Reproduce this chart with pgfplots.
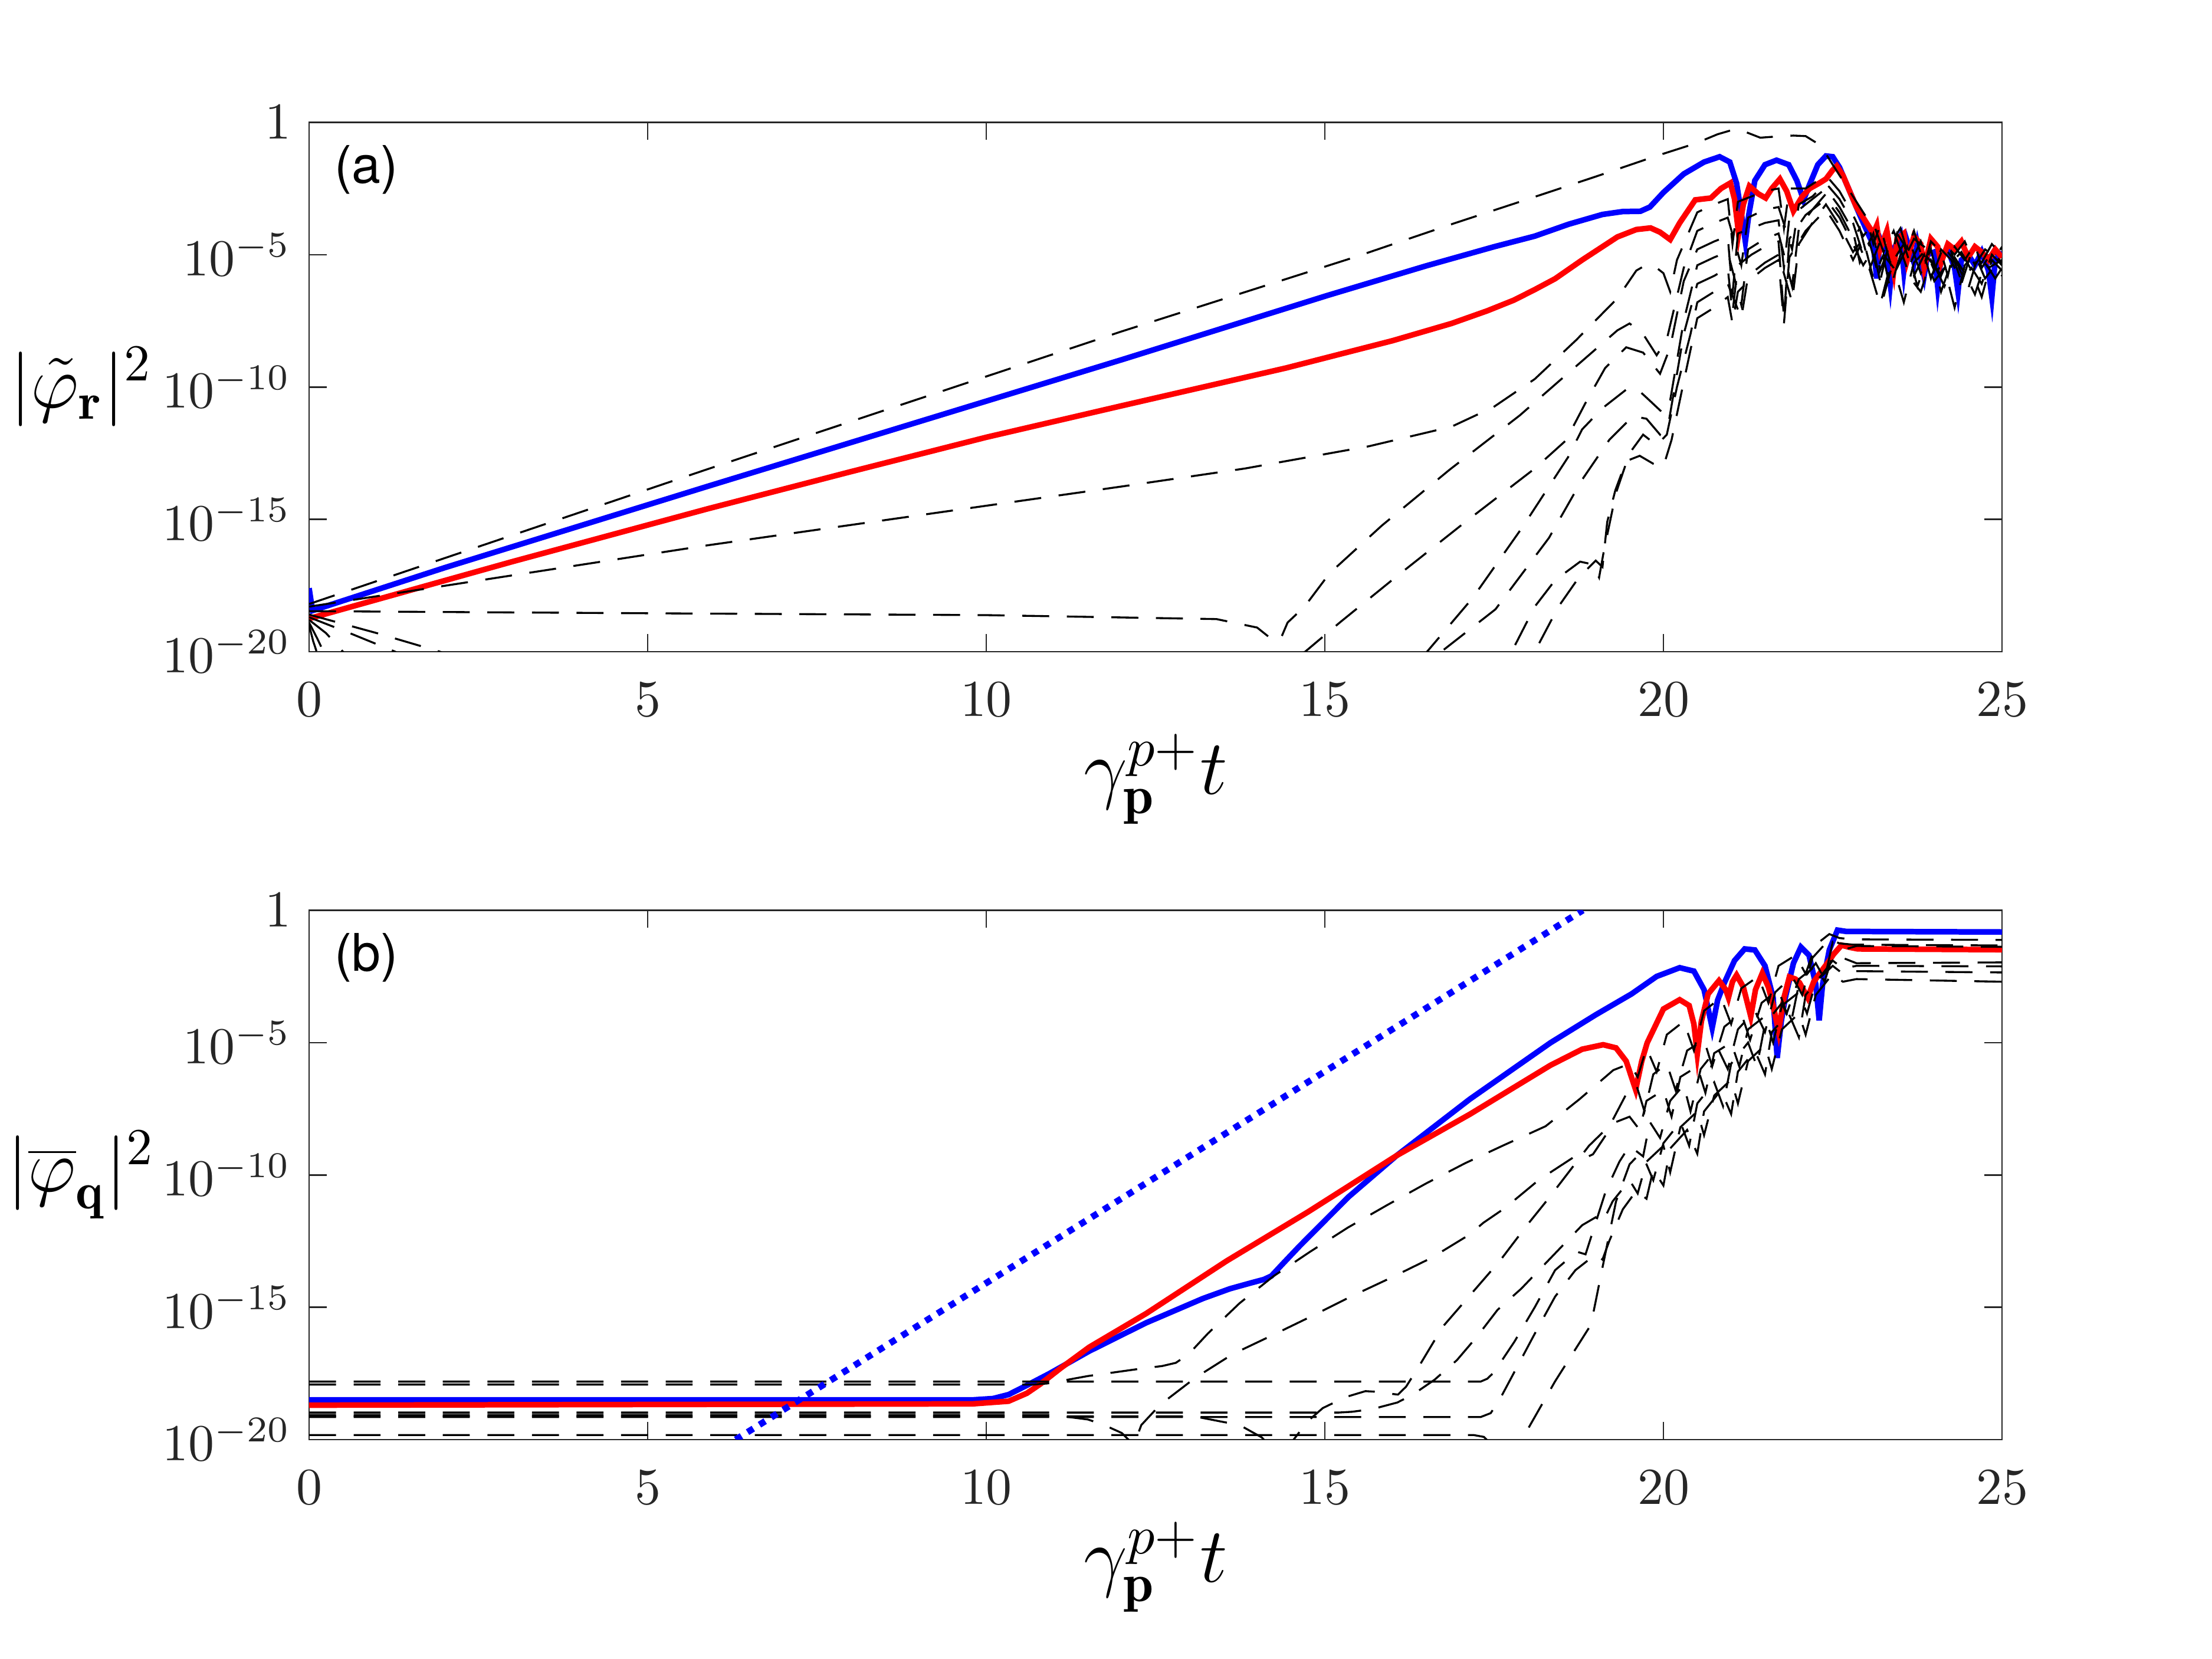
\RequirePackage{fix-cm}
\documentclass[border=0pt]{standalone}
\usepackage{fontspec}
\usepackage{pgfplots}
\pgfplotsset{compat=1.18}
\newfontfamily\helv{TeX Gyre Heros}
\definecolor{axgray}{gray}{0.15}
\definecolor{mblue}{rgb}{0,0,1}
\definecolor{mred}{rgb}{1,0,0}
\pgfplotsset{
  myaxis/.style={
    scale only axis, width=11.48cm, height=3.59cm,
    xmin=0, xmax=25, ymin=-20, ymax=0,
    xtick={0,5,...,25}, ytick={-20,-15,-10,-5,0},
    yticklabels={$10^{-20}$,$10^{-15}$,$10^{-10}$,$10^{-5}$,$1$},
    tick align=inside, major tick length=0.12cm,
    axis line style={axgray, line width=0.3pt},
    every tick/.style={axgray, line width=0.3pt},
    tick label style={font=\fontsize{10}{12}\selectfont, color=axgray},
    xticklabel style={yshift=-2.5pt},
    xlabel={$\gamma_{\mathbf{p}}^{p+}t$},
    xlabel style={font=\fontsize{15}{18}\selectfont, at={(axis description cs:0.5,0)}, anchor=center, yshift=-0.864cm},
    ylabel style={font=\fontsize{14.4}{17}\selectfont, at={(axis description cs:-0.1345,0.5)}, anchor=center, rotate=-90},
  },
  bl/.style={mblue, line width=1.08pt},
  rd/.style={mred, line width=1.08pt},
  bk/.style={black, line width=0.38pt, dash pattern=on 5.2pt off 3.4pt},
  dt/.style={mblue, line width=1.25pt, dash pattern=on 1.3pt off 1.4pt},
}
\begin{document}
\begin{tikzpicture}
\useasboundingbox (0,0) rectangle (15cm,11.252cm);
% ---------------- panel (a)
\begin{axis}[myaxis, at={(2.096cm,6.832cm)}, anchor=south west,
  ylabel={$|\tilde{\varphi}_{\mathbf{r}}|^2$}]
\addplot[bl] coordinates {(0,-17.6)(0.05,-18.45)(2,-16.83)(5.89,-13.75)(12,-8.97)(15.04,-6.54)(16.5,-5.42)(17.5,-4.7)(18.1,-4.3)(18.6,-3.85)(19.1,-3.48)(19.4,-3.37)(19.66,-3.36)(19.8,-3.2)(20.0,-2.65)(20.3,-1.95)(20.6,-1.5)(20.83,-1.3)(20.98,-1.5)(21.08,-2.3)(21.16,-3.6)(21.21,-4.5)(21.26,-3.5)(21.35,-2.2)(21.5,-1.6)(21.67,-1.43)(21.85,-1.6)(21.97,-2.2)(22.07,-2.93)(22.15,-2.4)(22.28,-1.6)(22.4,-1.27)(22.5,-1.3)(22.6,-1.7)(22.75,-2.6)(22.9,-3.5)(23.05,-4.36)(23.1,-4.6)(23.15,-5.9)(23.2,-4.4)(23.3,-5.0)(23.35,-6.1)(23.4,-4.8)(23.5,-4.3)(23.55,-5.6)(23.6,-4.5)(23.7,-5.3)(23.75,-4.6)(23.85,-5.8)(23.9,-5.0)(24.0,-4.9)(24.05,-6.2)(24.1,-5.1)(24.2,-4.8)(24.3,-5.5)(24.35,-6.4)(24.4,-5.2)(24.5,-5.0)(24.6,-5.4)(24.7,-4.9)(24.8,-5.6)(24.85,-6.6)(24.9,-5.2)(25,-4.9)};
\addplot[rd] coordinates {(0,-18.75)(3,-16.6)(5.89,-14.6)(8,-13.2)(10,-11.9)(12,-10.71)(14.43,-9.28)(16,-8.25)(16.87,-7.6)(17.4,-7.12)(17.79,-6.72)(18.1,-6.32)(18.4,-5.91)(18.8,-5.2)(19.32,-4.33)(19.6,-4.05)(19.81,-3.99)(19.95,-4.15)(20.1,-4.43)(20.24,-3.8)(20.47,-2.93)(20.7,-2.86)(20.85,-2.5)(20.99,-2.29)(21.05,-2.9)(21.11,-4.2)(21.18,-3.1)(21.27,-2.41)(21.4,-2.7)(21.51,-2.86)(21.6,-2.5)(21.72,-2.14)(21.82,-2.6)(21.92,-3.35)(22.05,-2.8)(22.16,-2.5)(22.3,-2.3)(22.4,-2.14)(22.5,-1.8)(22.56,-1.65)(22.65,-2.0)(22.75,-2.6)(22.85,-3.2)(23.0,-3.8)(23.1,-4.2)(23.15,-3.9)(23.2,-4.8)(23.3,-4.1)(23.4,-5.6)(23.45,-4.4)(23.55,-4.2)(23.6,-5.2)(23.7,-4.3)(23.8,-4.6)(23.85,-5.5)(23.95,-4.4)(24.05,-4.7)(24.1,-5.3)(24.2,-4.6)(24.3,-4.8)(24.4,-4.5)(24.5,-5.1)(24.6,-4.7)(24.7,-4.9)(24.8,-5.2)(24.9,-4.8)(25,-5.1)};
% D1
\addplot[bk] coordinates {(0,-18.2)(5.89,-13.1)(12,-7.9)(15.47,-5.07)(16.87,-3.85)(18,-2.9)(19,-2.05)(19.86,-1.3)(20.47,-0.8)(20.8,-0.45)(21.0,-0.3)(21.11,-0.26)(21.25,-0.4)(21.43,-0.58)(21.7,-0.53)(21.92,-0.5)(22.1,-0.52)(22.32,-0.87)(22.5,-1.6)(22.7,-2.4)(22.85,-3.0)(23.0,-3.6)(23.1,-4.6)(23.2,-3.9)(23.35,-5.3)(23.45,-4.2)(23.6,-4.8)(23.7,-4.1)(23.85,-5.4)(23.95,-4.5)(24.1,-4.9)(24.2,-5.8)(24.3,-4.7)(24.45,-5.2)(24.6,-4.6)(24.7,-5.5)(24.85,-4.9)(25,-5.3)};
% D2
\addplot[bk] coordinates {(0,-18.3)(5.89,-15.98)(12,-13.76)(13.82,-13.08)(15.65,-12.24)(16.87,-11.5)(17.49,-10.76)(18.1,-9.7)(18.71,-8.23)(19.32,-6.65)(19.6,-5.6)(19.75,-5.38)(19.9,-5.5)(20.0,-5.7)(20.1,-6.4)(20.2,-5.2)(20.5,-3.4)(20.75,-3.1)(20.95,-2.9)(21.02,-4.6)(21.1,-3.0)(21.3,-2.8)(21.5,-2.6)(21.7,-2.5)(21.78,-4.0)(21.86,-2.5)(22.1,-2.5)(22.4,-2.0)(22.6,-2.6)(22.8,-3.5)(22.95,-4.3)(23.1,-3.8)(23.25,-4.9)(23.4,-4.1)(23.55,-5.2)(23.7,-4.4)(23.85,-4.7)(24.0,-5.6)(24.15,-4.6)(24.3,-5.0)(24.45,-4.5)(24.6,-5.4)(24.75,-4.8)(24.9,-5.1)(25,-4.7)};
% E1
\addplot[bk] coordinates {(0,-18.47)(5,-18.55)(10,-18.62)(13.4,-18.77)(14.0,-19.09)(14.25,-19.6)(14.35,-19.5)(14.45,-18.9)(14.7,-18.3)(15.07,-17.04)(15.84,-15.24)(16.84,-13.13)(17.88,-11.07)(18.56,-9.55)(19.32,-7.86)(19.5,-7.6)(19.7,-8.0)(19.9,-8.8)(20.05,-8.2)(20.3,-5.5)(20.5,-4.1)(20.75,-3.8)(20.95,-3.6)(21.15,-5.4)(21.25,-3.6)(21.5,-3.3)(21.7,-3.2)(21.9,-4.8)(22.0,-3.1)(22.2,-2.8)(22.4,-2.3)(22.6,-2.9)(22.8,-3.8)(22.95,-5.0)(23.1,-4.2)(23.2,-5.6)(23.35,-4.6)(23.5,-4.0)(23.65,-5.3)(23.8,-4.5)(23.95,-5.9)(24.1,-4.8)(24.25,-5.2)(24.4,-6.1)(24.55,-4.9)(24.7,-5.3)(24.85,-4.6)(25,-5.0)};
% E2
\addplot[bk] coordinates {(0,-18.6)(1.0,-19.3)(1.93,-20.0)(2.5,-20.6)(8,-24)(14.0,-21)(14.71,-20.0)(15.23,-18.88)(16.02,-17.24)(17.06,-15.13)(18.1,-13.08)(18.56,-12.02)(18.86,-10.55)(19.14,-9.28)(19.45,-8.5)(19.7,-8.7)(19.95,-9.5)(20.1,-8.5)(20.3,-6.0)(20.5,-4.8)(20.75,-4.5)(20.95,-4.3)(21.02,-6.5)(21.1,-4.2)(21.3,-4.0)(21.5,-3.8)(21.7,-3.7)(21.78,-5.5)(21.86,-3.6)(22.1,-3.1)(22.4,-2.5)(22.6,-3.2)(22.8,-4.1)(22.9,-5.3)(23.05,-4.6)(23.2,-6.0)(23.3,-4.9)(23.45,-5.5)(23.6,-4.7)(23.75,-6.2)(23.9,-5.1)(24.05,-5.6)(24.2,-4.9)(24.35,-5.4)(24.5,-6.3)(24.65,-5.0)(24.8,-5.5)(25,-5.2)};
% E3
\addplot[bk] coordinates {(0,-18.7)(0.6,-19.3)(1.27,-20.0)(1.6,-20.5)(8,-25)(16.2,-21)(16.51,-20)(17.18,-17.98)(17.92,-15.29)(18.59,-12.66)(18.8,-11.6)(19.1,-10.8)(19.45,-10.1)(19.6,-10.05)(19.75,-10.4)(20.0,-11.0)(20.1,-10.5)(20.3,-7.5)(20.5,-5.4)(20.75,-5.1)(20.95,-4.9)(21.15,-6.9)(21.25,-4.8)(21.5,-4.4)(21.7,-4.2)(21.9,-6.2)(22.0,-4.0)(22.2,-3.3)(22.4,-2.7)(22.6,-3.4)(22.8,-4.4)(22.9,-4.0)(23.05,-5.5)(23.2,-4.5)(23.35,-6.3)(23.5,-5.0)(23.65,-4.6)(23.8,-5.7)(23.95,-4.8)(24.1,-6.4)(24.25,-5.3)(24.4,-4.9)(24.55,-5.6)(24.7,-6.6)(24.85,-5.2)(25,-5.6)};
% E4
\addplot[bk] coordinates {(0,-18.8)(0.25,-19.3)(0.5,-20.0)(0.7,-20.6)(8,-26)(16.4,-21)(16.72,-20)(17.52,-18.4)(18.31,-15.7)(18.8,-13.5)(19.2,-12.0)(19.55,-11.1)(19.75,-11.2)(19.95,-11.8)(20.08,-11.3)(20.3,-8.0)(20.5,-6.1)(20.75,-5.8)(20.95,-5.5)(21.02,-7.2)(21.1,-5.4)(21.3,-5.0)(21.5,-4.7)(21.7,-4.5)(21.78,-7.4)(21.86,-4.4)(22.1,-3.5)(22.4,-2.9)(22.6,-3.6)(22.8,-4.6)(22.95,-5.4)(23.1,-4.8)(23.25,-6.6)(23.4,-5.2)(23.55,-4.6)(23.7,-5.8)(23.85,-5.0)(24.0,-6.0)(24.15,-5.5)(24.3,-7.0)(24.45,-5.4)(24.6,-5.0)(24.75,-5.9)(24.9,-5.4)(25,-5.8)};
% E5
\addplot[bk] coordinates {(0,-18.9)(0.12,-19.5)(0.25,-20.2)(8,-27)(17.4,-21)(17.76,-20)(18.1,-18.3)(18.4,-17.3)(18.77,-16.6)(18.95,-16.7)(19.05,-17.2)(19.12,-16.2)(19.3,-14.0)(19.5,-12.5)(19.7,-11.8)(19.9,-12.2)(20.05,-11.8)(20.2,-10.0)(20.4,-8.0)(20.5,-6.8)(20.75,-6.4)(20.95,-6.1)(21.15,-7.4)(21.25,-5.8)(21.5,-5.3)(21.7,-5.0)(21.9,-6.8)(22.0,-4.6)(22.2,-3.8)(22.4,-3.1)(22.6,-3.9)(22.8,-4.9)(22.95,-4.4)(23.1,-5.9)(23.25,-5.0)(23.4,-5.5)(23.55,-6.8)(23.7,-5.3)(23.85,-4.9)(24.0,-5.4)(24.15,-6.2)(24.3,-5.1)(24.45,-5.7)(24.6,-6.5)(24.75,-5.3)(24.9,-5.9)(25,-5.5)};
% E6
\addplot[bk] coordinates {(0,-19.0)(0.06,-19.6)(0.15,-20.3)(8,-28)(17.8,-21)(18.1,-20)(18.45,-18.3)(18.75,-17.2)(19.0,-16.56)(19.1,-16.8)(19.17,-15.1)(19.29,-13.9)(19.45,-12.8)(19.65,-12.6)(19.85,-12.9)(20.0,-13.0)(20.12,-12.0)(20.3,-9.8)(20.5,-7.4)(20.75,-7.0)(20.95,-6.6)(21.02,-7.6)(21.1,-6.4)(21.3,-5.9)(21.5,-5.5)(21.7,-5.2)(21.78,-7.6)(21.86,-5.1)(22.1,-4.1)(22.4,-3.3)(22.6,-4.1)(22.8,-5.2)(22.9,-4.7)(23.05,-5.6)(23.2,-6.9)(23.35,-5.4)(23.5,-4.8)(23.65,-5.9)(23.8,-6.4)(23.95,-5.2)(24.1,-5.8)(24.25,-4.9)(24.4,-6.0)(24.55,-5.5)(24.7,-6.1)(24.85,-5.0)(25,-5.4)};
\node[anchor=west, inner sep=0pt, font=\helv\fontsize{10}{12}\selectfont] at (rel axis cs:0.0146,0.911) {(a)};
\end{axis}
% ---------------- panel (b)
\begin{axis}[myaxis, at={(2.096cm,1.488cm)}, anchor=south west,
  ylabel={$|\overline{\varphi}_{\mathbf{q}}|^2$}]
\addplot[bl] coordinates {(0,-18.5)(9.8,-18.5)(10.1,-18.45)(10.33,-18.3)(10.6,-17.95)(10.93,-17.51)(11.52,-16.66)(12.36,-15.59)(13.2,-14.67)(13.6,-14.3)(13.91,-14.08)(14.1,-13.95)(14.21,-13.82)(14.4,-13.3)(14.63,-12.68)(15.35,-10.83)(16.06,-9.27)(17.14,-7.14)(18.33,-5.01)(19.0,-3.95)(19.53,-3.16)(19.9,-2.5)(20.24,-2.17)(20.45,-2.3)(20.6,-3.0)(20.72,-4.44)(20.8,-3.4)(20.9,-2.74)(21.05,-1.9)(21.2,-1.46)(21.35,-1.5)(21.5,-2.1)(21.62,-3.3)(21.68,-5.58)(21.74,-4.2)(21.8,-3.3)(21.92,-2.0)(22.03,-1.39)(22.15,-1.7)(22.25,-2.8)(22.3,-4.16)(22.35,-2.8)(22.45,-1.5)(22.57,-0.75)(22.7,-0.8)(25,-0.82)};
\addplot[rd] coordinates {(0,-18.7)(9.8,-18.65)(10.33,-18.55)(10.6,-18.25)(10.8,-17.9)(11.1,-17.3)(11.52,-16.51)(12.36,-15.24)(13.55,-13.25)(14.75,-11.4)(16.06,-9.27)(17.14,-7.71)(18.33,-5.86)(18.8,-5.25)(19.11,-5.08)(19.3,-5.2)(19.45,-5.7)(19.59,-6.78)(19.68,-5.7)(19.76,-5.01)(20.0,-3.73)(20.24,-3.38)(20.38,-3.6)(20.45,-4.3)(20.5,-5.43)(20.56,-4.2)(20.66,-3.16)(20.82,-2.66)(20.92,-3.0)(20.96,-3.3)(21.02,-2.7)(21.08,-2.45)(21.18,-2.9)(21.29,-4.01)(21.36,-3.0)(21.46,-2.38)(21.55,-2.9)(21.62,-3.59)(21.7,-4.58)(21.78,-3.3)(21.86,-2.52)(21.95,-2.6)(22.01,-2.74)(22.13,-3.3)(22.22,-2.7)(22.33,-2.31)(22.45,-1.9)(22.51,-1.67)(22.63,-1.32)(22.75,-1.4)(22.87,-1.46)(25,-1.49)};
% A
\addplot[bk] coordinates {(0,-17.81)(17.3,-17.81)(17.4,-17.7)(17.5,-17.45)(17.8,-16.3)(18.1,-15.0)(18.4,-13.6)(18.72,-12.9)(18.85,-13.0)(18.95,-12.2)(19.15,-10.6)(19.35,-9.5)(19.5,-8.9)(19.7,-9.3)(19.8,-8.0)(19.95,-8.6)(20.1,-7.2)(20.3,-6.6)(20.4,-7.6)(20.55,-6.0)(20.8,-5.2)(20.95,-6.0)(21.1,-4.5)(21.35,-3.8)(21.5,-4.6)(21.65,-3.1)(21.9,-2.5)(22.05,-3.2)(22.2,-1.8)(22.45,-1.1)(22.6,-1.25)(22.8,-1.3)(25,-1.33)};
% B
\addplot[bk] coordinates {(0,-17.92)(10.7,-17.92)(10.9,-17.88)(11.5,-17.6)(12.2,-17.35)(12.6,-17.22)(12.8,-17.1)(12.99,-16.77)(13.27,-16.0)(13.74,-14.85)(14.24,-13.83)(14.79,-12.89)(15.34,-11.99)(15.92,-11.14)(16.49,-10.33)(17.07,-9.56)(17.64,-8.88)(18.08,-8.37)(18.26,-8.16)(18.76,-7.14)(19.26,-6.04)(19.5,-5.8)(19.62,-6.3)(19.75,-5.2)(19.9,-6.1)(20.05,-4.7)(20.3,-4.2)(20.45,-5.3)(20.6,-3.8)(20.85,-3.3)(21.0,-4.3)(21.15,-2.95)(21.4,-2.5)(21.55,-3.5)(21.7,-2.1)(21.95,-1.7)(22.1,-2.4)(22.25,-1.3)(22.45,-0.9)(22.6,-1.05)(22.8,-1.1)(25,-1.12)};
% C
\addplot[bk] coordinates {(0,-18.98)(15.2,-18.98)(15.4,-18.95)(15.7,-18.85)(16.07,-18.6)(16.3,-18.3)(16.62,-17.74)(16.95,-17.0)(17.25,-16.1)(17.55,-15.1)(17.9,-14.3)(18.2,-13.5)(18.5,-12.7)(18.8,-11.9)(19.0,-11.6)(19.1,-11.8)(19.25,-11.0)(19.5,-10.2)(19.62,-10.7)(19.75,-9.5)(20.0,-8.9)(20.1,-9.9)(20.25,-8.2)(20.5,-7.6)(20.6,-8.5)(20.75,-7.0)(21.0,-6.4)(21.1,-7.3)(21.25,-5.7)(21.5,-5.1)(21.6,-6.0)(21.75,-4.5)(22.0,-3.9)(22.1,-4.7)(22.25,-3.2)(22.5,-2.4)(22.65,-2.7)(22.85,-2.6)(25,-2.7)};
% D
\addplot[bk] coordinates {(0,-19.07)(10.9,-19.07)(11.1,-19.11)(11.5,-19.24)(11.74,-19.45)(12.0,-19.75)(12.18,-20.2)(12.29,-19.45)(12.57,-18.68)(13.09,-17.66)(13.64,-16.77)(14.24,-16.04)(14.82,-15.32)(15.39,-14.59)(15.99,-13.87)(16.57,-13.14)(17.14,-12.25)(17.34,-11.81)(17.66,-11.25)(18.16,-10.19)(18.71,-9.27)(18.85,-9.35)(18.96,-9.22)(19.14,-8.53)(19.26,-7.88)(19.44,-7.0)(19.6,-6.6)(19.72,-7.6)(19.85,-6.2)(20.05,-5.8)(20.18,-6.8)(20.35,-5.3)(20.6,-4.9)(20.72,-5.9)(20.9,-4.4)(21.15,-3.9)(21.28,-4.9)(21.45,-3.5)(21.7,-3.0)(21.82,-3.9)(22.0,-2.6)(22.25,-2.1)(22.38,-2.7)(22.5,-1.7)(22.65,-1.8)(22.85,-2.0)(25,-1.97)};
% E
\addplot[bk] coordinates {(0,-19.12)(13.0,-19.12)(13.09,-19.13)(13.47,-19.32)(13.74,-19.45)(14.07,-19.92)(14.2,-20.3)(14.4,-20.4)(14.54,-20.0)(14.75,-19.3)(14.97,-18.81)(15.3,-18.4)(15.6,-18.17)(15.8,-18.2)(15.94,-18.26)(16.08,-18.3)(16.2,-18.0)(16.4,-17.19)(16.74,-15.74)(17.17,-14.47)(17.59,-13.23)(17.97,-11.95)(18.3,-10.9)(18.6,-9.9)(18.9,-8.9)(19.1,-8.4)(19.3,-8.0)(19.5,-7.8)(19.65,-8.3)(19.75,-7.2)(20.0,-6.8)(20.12,-7.8)(20.25,-6.3)(20.5,-5.9)(20.62,-6.9)(20.75,-5.4)(21.0,-5.0)(21.12,-5.9)(21.25,-4.5)(21.5,-4.0)(21.62,-5.0)(21.75,-3.6)(22.0,-3.1)(22.12,-3.9)(22.25,-2.7)(22.5,-2.1)(22.65,-2.4)(22.85,-2.3)(25,-2.35)};
% G
\addplot[bk] coordinates {(0,-19.15)(17.3,-19.15)(17.45,-19.0)(17.6,-18.4)(17.85,-17.2)(18.1,-16.0)(18.4,-14.6)(18.7,-13.6)(19.0,-13.0)(19.1,-13.2)(19.2,-12.5)(19.4,-11.3)(19.6,-10.6)(19.75,-10.9)(19.85,-9.8)(20.0,-10.4)(20.1,-9.0)(20.35,-8.3)(20.5,-9.2)(20.6,-7.6)(20.85,-6.8)(21.0,-7.7)(21.1,-6.1)(21.35,-5.3)(21.5,-6.2)(21.6,-4.6)(21.85,-3.9)(22.0,-4.8)(22.1,-3.2)(22.35,-2.4)(22.5,-1.9)(22.65,-2.2)(22.85,-2.1)(25,-2.12)};
% F
\addplot[bk] coordinates {(0,-19.83)(17.2,-19.83)(17.35,-19.9)(17.5,-20.3)(17.7,-20.8)(17.91,-20.0)(18.4,-17.8)(18.93,-15.66)(19.1,-13.5)(19.3,-11.0)(19.5,-9.6)(19.65,-9.2)(19.75,-9.6)(19.85,-10.2)(20.0,-8.8)(20.25,-8.0)(20.38,-8.9)(20.5,-7.3)(20.75,-6.5)(20.88,-7.4)(21.0,-5.8)(21.25,-5.0)(21.38,-5.9)(21.5,-4.3)(21.75,-3.5)(21.88,-4.3)(22.0,-2.8)(22.25,-2.0)(22.38,-2.6)(22.5,-1.2)(22.65,-1.5)(22.85,-1.35)(25,-1.38)};
% dotted reference line
\addplot[dt] coordinates {(6.30,-20)(18.81,0)};
\node[anchor=west, inner sep=0pt, font=\helv\fontsize{10}{12}\selectfont] at (rel axis cs:0.0146,0.911) {(b)};
\end{axis}
\end{tikzpicture}
\end{document}
